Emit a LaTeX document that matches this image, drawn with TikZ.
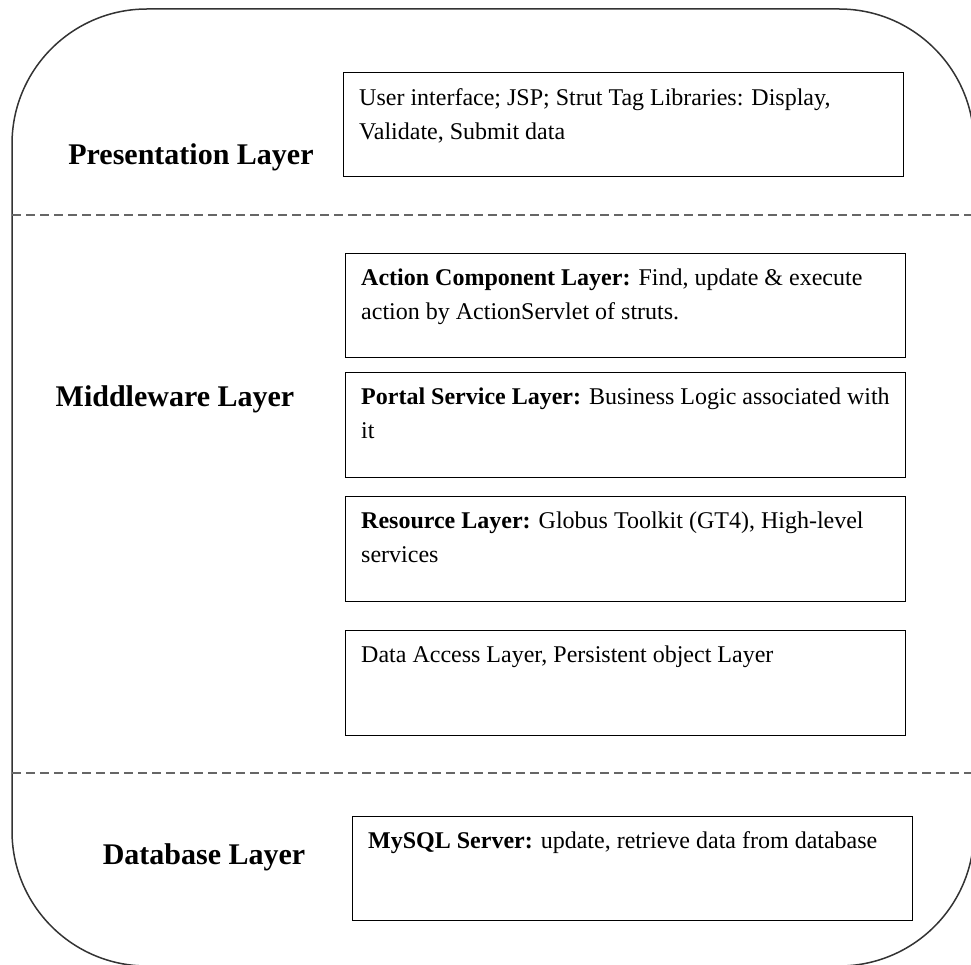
\documentclass[tikz,border=0pt]{standalone}
\usepackage{fontspec}
\setmainfont{Liberation Serif}
\begin{document}
\begin{tikzpicture}[x=1pt,y=-1pt,
  layerbox/.style={draw=black, line width=1.4pt, inner sep=0pt, anchor=north west,
                   minimum width=560pt, minimum height=104pt},
  boxtext/.style={anchor=north west, inner sep=0pt, align=left,
                  font=\fontsize{24}{34}\selectfont},
  layerlabel/.style={inner sep=0pt, font=\fontsize{30}{36}\selectfont\bfseries},
  separator/.style={draw=black!60, line width=1.5pt, dash pattern=on 9pt off 5pt}]
\useasboundingbox (0,0) rectangle (971,965);

% outer frame
\draw[line width=1.5pt, draw=black!80, rounded corners=135pt] (12,9) rectangle (974,966);

% layer separators
\coordinate (s1a) at (12,215);  \coordinate (s1b) at (971,215);
\coordinate (s2a) at (12,773);  \coordinate (s2b) at (971,773);
\draw[separator] (s1a) -- (s1b);
\draw[separator] (s2a) -- (s2b);

% layer labels
\node[layerlabel] (lpres) at (191,157) {Presentation Layer};
\node[layerlabel] (lmid)  at (175,399) {Middleware Layer};
\node[layerlabel] (ldb)   at (204,857) {Database Layer};

% component boxes
\node[layerbox] (pres) at (343,72) {};
\node[boxtext] (tpres) at (359,88) {User interface; JSP; Strut Tag Libraries: Display,\\Validate, Submit data};

\node[layerbox] (act) at (345,253) {};
\node[boxtext] (tact) at (361,269) {\textbf{Action Component Layer:} Find, update \& execute\\action by ActionServlet of struts.};

\node[layerbox, minimum height=105pt] (portal) at (345,372) {};
\node[boxtext] (tportal) at (361,388) {\textbf{Portal Service Layer:} Business Logic associated with\\it};

\node[layerbox, minimum height=105pt] (res) at (345,496) {};
\node[boxtext] (tres) at (361,512) {\textbf{Resource Layer:} Globus Toolkit (GT4), High-level\\services};

\node[layerbox, minimum height=105pt] (dal) at (345,630) {};
\node[boxtext] (tdal) at (361,646) {Data Access Layer, Persistent object Layer};

\node[layerbox] (db) at (352,816) {};
\node[boxtext] (tdb) at (368,831) {\textbf{MySQL Server:} update, retrieve data from database};
\end{tikzpicture}
\end{document}
